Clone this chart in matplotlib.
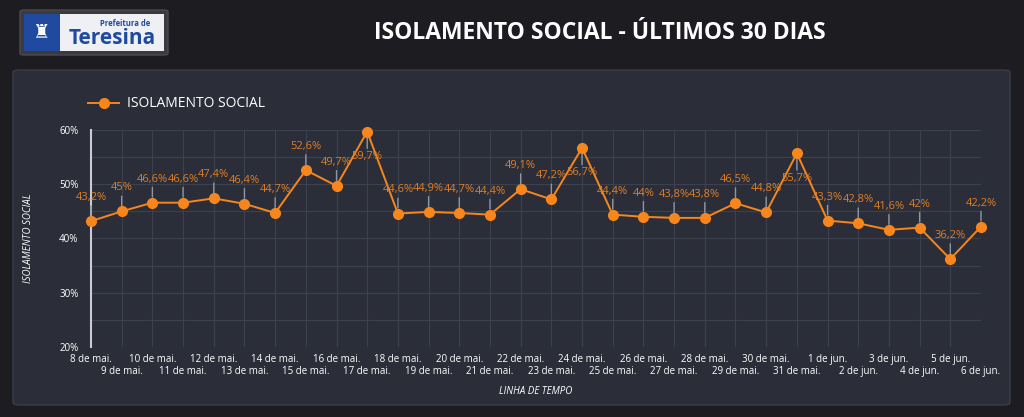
import matplotlib.pyplot as plt
from matplotlib.patches import FancyBboxPatch, Rectangle

# dados
dias = ["8 de mai.", "9 de mai.", "10 de mai.", "11 de mai.", "12 de mai.", "13 de mai.",
        "14 de mai.", "15 de mai.", "16 de mai.", "17 de mai.", "18 de mai.", "19 de mai.",
        "20 de mai.", "21 de mai.", "22 de mai.", "23 de mai.", "24 de mai.", "25 de mai.",
        "26 de mai.", "27 de mai.", "28 de mai.", "29 de mai.", "30 de mai.", "31 de mai.",
        "1 de jun.", "2 de jun.", "3 de jun.", "4 de jun.", "5 de jun.", "6 de jun."]
isolamento = [43.2, 45, 46.6, 46.6, 47.4, 46.4, 44.7, 52.6, 49.7, 59.7,
              44.6, 44.9, 44.7, 44.4, 49.1, 47.2, 56.7, 44.4, 44, 43.8,
              43.8, 46.5, 44.8, 55.7, 43.3, 42.8, 41.6, 42, 36.2, 42.2]
y_ticks = [20, 30, 40, 50, 60]

plt.rcParams["font.family"] = ["Open Sans", "DejaVu Sans"]

BG = "#1d1d21"
PAINEL = "#2b2e39"
GRADE = "#3c4150"
LARANJA = "#f7861c"
ROTULO = "#e07f25"

fig = plt.figure(figsize=(10.24, 4.17), dpi=100, facecolor=BG)
W, H = 1024, 417


def fx(px):
    return px / W


def fy(py):
    return 1 - py / H


# painel de fundo
fig.patches.append(FancyBboxPatch((fx(13), fy(405)), fx(997), 335 / H,
                                  boxstyle="round,pad=0,rounding_size=0.006",
                                  transform=fig.transFigure, facecolor=PAINEL,
                                  edgecolor="#3a3d48", linewidth=1, zorder=-2))

# logo simplificado
fig.patches.append(FancyBboxPatch((fx(20), fy(55)), fx(148), 45 / H,
                                  boxstyle="round,pad=0,rounding_size=0.004",
                                  transform=fig.transFigure, facecolor="#3a3a3f",
                                  edgecolor="#4a4a50", linewidth=1, zorder=1))
fig.patches.append(Rectangle((fx(24), fy(51)), fx(140), 37 / H, transform=fig.transFigure,
                             facecolor="#eef0f4", edgecolor="none", zorder=2))
fig.patches.append(Rectangle((fx(24), fy(51)), fx(36), 37 / H, transform=fig.transFigure,
                             facecolor="#1f4aa0", edgecolor="none", zorder=3))
fig.text(fx(42), fy(33), "♜", color="white", fontsize=14, ha="center", va="center",
         family=["DejaVu Sans"], zorder=4)
fig.text(fx(112), fy(38), "Teresina", color="#1f4aa0", fontsize=15, fontweight="bold",
         ha="center", va="center", zorder=4)
fig.text(fx(100), fy(24), "Prefeitura de", color="#1f4aa0", fontsize=5.5,
         fontweight="bold", ha="left", va="center", zorder=4)

fig.text(fx(600), fy(33), "ISOLAMENTO SOCIAL - ÚLTIMOS 30 DIAS", color="white",
         fontsize=16.5, fontweight="bold", ha="center", va="center")

# eixo
ax = fig.add_axes([fx(91), fy(347), fx(890), 217 / H])
ax.set_zorder(1)
ax.set_facecolor("none")
x = list(range(len(dias)))
ax.plot(x, isolamento, color=LARANJA, linewidth=1.4, marker="o", markersize=7,
        label="ISOLAMENTO SOCIAL", clip_on=False, zorder=5)

for i, v in enumerate(isolamento):
    texto = f"{v:g}%".replace(".", ",")
    if v > 55:
        off, va = -14, "top"
    else:
        off, va = 13, "bottom"
    ax.annotate(texto, (i, v), xytext=(0, off), textcoords="offset points",
                ha="center", va=va, color=ROTULO, fontsize=8, zorder=6,
                arrowprops=dict(arrowstyle="-", color="#8e95a3", lw=1,
                                shrinkA=0, shrinkB=4))

ax.set_xlim(0, len(dias) - 1)
ax.set_ylim(20, 60)
# dias pares na primeira linha, ímpares na segunda
ax.set_xticks(x[0::2])
ax.set_xticklabels(dias[0::2], color="white", fontsize=7)
ax.set_xticks(x[1::2], minor=True)
ax.set_xticklabels(dias[1::2], minor=True, color="white", fontsize=7)
ax.set_yticks(y_ticks)
ax.set_yticklabels([f"{t}%" for t in y_ticks], color="white", fontsize=7)
ax.set_yticks(range(25, 60, 10), minor=True)
ax.tick_params(axis="both", which="both", length=0)
ax.tick_params(axis="x", which="major", pad=5)
ax.tick_params(axis="x", which="minor", pad=14)
ax.tick_params(axis="y", pad=9)
ax.grid(True, which="both", color=GRADE, linewidth=0.8)
for lado in ["top", "right", "bottom"]:
    ax.spines[lado].set_visible(False)
ax.spines["left"].set_color("#c9ccd3")
ax.spines["left"].set_linewidth(1.5)
ax.spines["left"].set_zorder(4)

ax.set_ylabel("ISOLAMENTO SOCIAL", color="white", fontsize=7, style="italic", labelpad=18)
ax.set_xlabel("LINHA DE TEMPO", color="white", fontsize=7, style="italic", labelpad=6)

ax.legend(loc="center left", bbox_to_anchor=(-0.003, 1.12), frameon=False,
          borderaxespad=0, borderpad=0, handlelength=2.2, handletextpad=0.6,
          fontsize=10, labelcolor="white")

fig.savefig("out.png", dpi=100, facecolor=BG)
